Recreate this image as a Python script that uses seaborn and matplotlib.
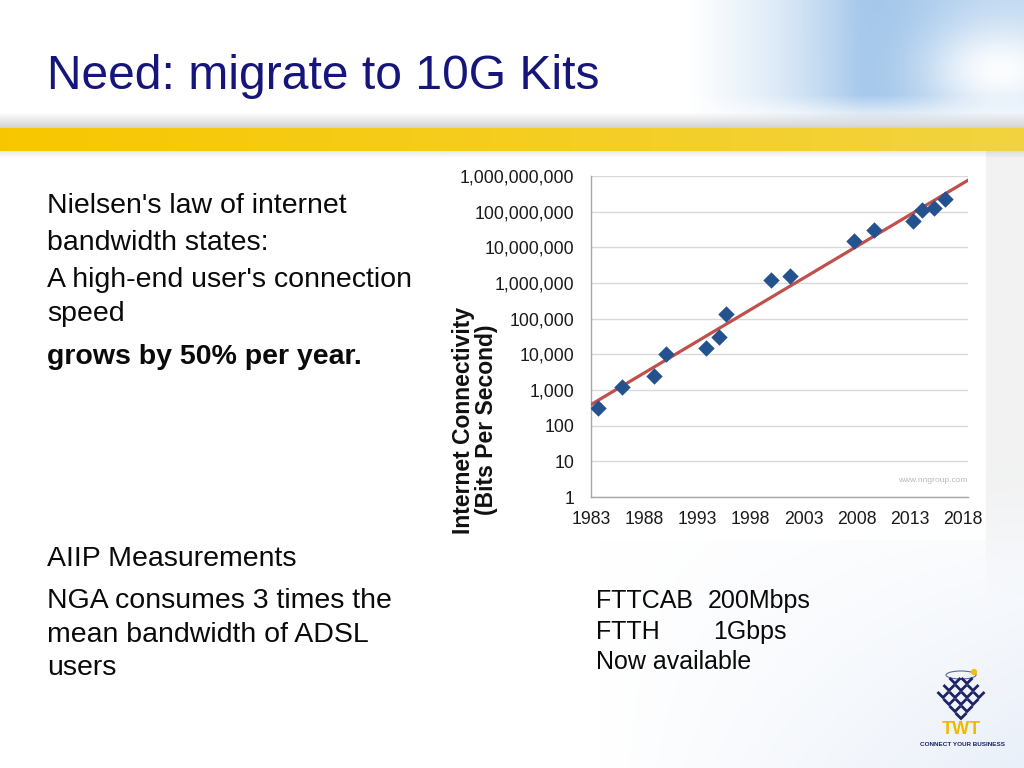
import numpy as np
import pandas as pd
import matplotlib
matplotlib.use("Agg")
import matplotlib.pyplot as plt
import matplotlib.ticker as mticker
from matplotlib.patches import Rectangle, Ellipse, Circle
import seaborn as sns

# ---------------- data ----------------
years = [1983.7, 1985.9, 1988.9, 1990.1, 1993.8, 1995.0, 1995.7, 1999.9,
         2001.7, 2007.7, 2009.6, 2013.3, 2014.1, 2015.3, 2016.3]
bps = [320, 1200, 2500, 10000, 15000, 30000, 135000, 1200000,
       1550000, 15500000, 30000000, 56000000, 115000000, 130000000, 230000000]
trend_years = [1983.0, 2018.5]
trend_bps = [390, 770000000]
y_ticks = [1, 10, 100, 1000, 10000, 100000, 1000000, 10000000, 100000000, 1000000000]
y_tick_labels = ["1", "10", "100", "1,000", "10,000", "100,000", "1,000,000",
                 "10,000,000", "100,000,000", "1,000,000,000"]
x_ticks = [1983, 1988, 1993, 1998, 2003, 2008, 2013, 2018]
x_tick_labels = ["1983", "1988", "1993", "1998", "2003", "2008", "2013", "2018"]

title_text = "Need: migrate to 10G Kits"
left_lines = ["Nielsen's law of internet", "bandwidth states:",
              "A high-end user's connection", "speed"]
bold_line = "grows by 50% per year."
lower_lines = ["AIIP Measurements", "NGA consumes 3 times the",
               "mean bandwidth of ADSL", "users"]
offer_names = ["FTTCAB", "FTTH"]
offer_speeds = ["200Mbps", "1Gbps"]
offer_note = "Now available"
y_label = "Internet Connectivity\n(Bits Per Second)"

# ---------------- style ----------------
sns.set_theme(style="white")
plt.rcParams["font.family"] = ["Liberation Sans", "DejaVu Sans"]

W, H = 1024, 768
fig = plt.figure(figsize=(W / 100, H / 100), dpi=100)

# ---------------- slide background ----------------
bg = fig.add_axes([0, 0, 1, 1])
bg.set_xlim(0, W)
bg.set_ylim(H, 0)
bg.axis("off")

img = np.ones((H, W, 3))
yy, xx = np.mgrid[0:H, 0:W].astype(float)
# sky in top right
sky = np.array([0.56, 0.73, 0.90])
a = np.clip((xx - 690) / 170, 0, 1)
cloud = np.exp(-(((xx - 1000) / 70) ** 2 + ((yy - 70) / 45) ** 2))
a = a * (1 - 0.95 * cloud) * np.clip((124 - yy) / 30, 0, 1)
a = a * (0.55 + 0.25 * np.exp(-((xx - 880) / 80) ** 2))
mask = yy < 124
for c in range(3):
    img[..., c] = np.where(mask, img[..., c] * (1 - a) + sky[c] * a, img[..., c])
# shadow above band
sh = np.clip((yy - 112) / 16, 0, 1)
shade = (yy >= 112) & (yy < 128)
for c in range(3):
    img[..., c] = np.where(shade, img[..., c] * (1 - 0.18 * sh), img[..., c])
# yellow band
band = (yy >= 128) & (yy < 151)
t = xx / W
ycol = np.stack([0.97 - 0.02 * t, 0.78 + 0.05 * t, 0.0 + 0.25 * t], axis=-1)
for c in range(3):
    img[..., c] = np.where(band, ycol[..., c], img[..., c])
# soft shadow below band
below = (yy >= 151) & (yy < 158)
for c in range(3):
    img[..., c] = np.where(below, img[..., c] * (1 - 0.08 * (158 - yy) / 7), img[..., c])
# right margin grey, fading downward
rmf = np.clip((600 - yy) / 120, 0, 1) * (xx > 985) * (yy >= 151)
for c in range(3):
    img[..., c] = img[..., c] * (1 - 0.05 * rmf)
# bluish gradient at bottom right
grad = np.clip((xx - 600) / 424, 0, 1) * np.clip((yy - 470) / 298, 0, 1)
tint = np.array([0.86, 0.90, 0.96])
low = yy >= 158
for c in range(3):
    img[..., c] = np.where(low, img[..., c] * (1 - 0.6 * grad) + tint[c] * 0.6 * grad, img[..., c])
bg.imshow(np.clip(img, 0, 1), extent=(0, W, H, 0), aspect="auto", zorder=0)

# chart picture panel (white)
bg.add_patch(Rectangle((446, 157), 539, 383, facecolor="white", edgecolor="none", zorder=1))

# ---------------- slide texts ----------------
navy = "#16167A"
txt_col = "#0A0A0A"
fs = 20.5
bg.text(47, 89, title_text, fontsize=34.6, color=navy, ha="left", va="baseline", zorder=3)
base_y = [213, 250, 287, 321]
for txt, yb in zip(left_lines, base_y):
    bg.text(47, yb, txt, fontsize=fs, color=txt_col, ha="left", va="baseline", zorder=3)
bg.text(47, 364, bold_line, fontsize=fs, color=txt_col, fontweight="bold",
        ha="left", va="baseline", zorder=3)
for txt, yb in zip(lower_lines, [566, 608, 642, 675]):
    bg.text(47, yb, txt, fontsize=fs, color=txt_col, ha="left", va="baseline", zorder=3)
for name, spd, yb, xs in zip(offer_names, offer_speeds, [608, 639], [708, 713]):
    bg.text(596, yb, name, fontsize=18, color=txt_col, ha="left", va="baseline", zorder=3)
    bg.text(xs, yb, spd, fontsize=18, color=txt_col, ha="left", va="baseline", zorder=3)
bg.text(596, 669, offer_note, fontsize=18, color=txt_col, ha="left", va="baseline", zorder=3)

# y label for the chart
bg.text(475, 420, y_label, fontsize=16.5, fontweight="bold", color="#111111",
        rotation=90, ha="center", va="center", multialignment="center",
        linespacing=1.05, zorder=3)
# watermark
bg.text(968, 481, "www.nngroup.com", fontsize=6, color="#B8B8B8", ha="right",
        va="center", zorder=3)

# ---------------- TWT logo ----------------
logo_navy = "#1C2466"
bg.add_patch(Ellipse((961, 675), 30, 8, fill=False, edgecolor="#5A6A9A", lw=0.8, zorder=3))
bg.add_patch(Circle((974, 672), 2.4, color="#F2C200", zorder=4))
rows = [2, 3, 4, 3, 2, 1]
for r, n in enumerate(rows):
    yv = 678 + r * 7.0
    for k in range(n):
        xc = 961 + (k - (n - 1) / 2) * 12
        bg.plot([xc - 5.5, xc, xc + 5.5], [yv, yv + 5.5, yv], color=logo_navy, lw=2.0,
                solid_joinstyle="miter", solid_capstyle="butt", zorder=3)
bg.text(961, 729, "TWT", fontsize=13, fontweight="bold", color="#F2B800",
        ha="center", va="center", zorder=3)
bg.text(963, 745, "CONNECT YOUR BUSINESS", fontsize=4.6, fontweight="bold",
        color=logo_navy, ha="center", va="center", zorder=3)

# ---------------- chart ----------------
x0, x1 = 591, 968
y0, y1 = 497, 176
ax = fig.add_axes([x0 / W, (H - y0) / H, (x1 - x0) / W, (y0 - y1) / H])
ax.set_facecolor("none")
df = pd.DataFrame({"year": years, "bps": bps})
tr = pd.DataFrame({"year": trend_years, "bps": trend_bps})

ax.set_yscale("log")
sns.lineplot(data=tr, x="year", y="bps", ax=ax, color="#C0504D", lw=2.3, zorder=3)
sns.scatterplot(data=df, x="year", y="bps", ax=ax, marker="D", s=70,
                color="#24528F", edgecolor="#24528F", linewidth=0, zorder=4)

ax.set_xlim(1983, 2018.47)
ax.set_ylim(1, 1e9)
ax.yaxis.set_major_locator(mticker.FixedLocator(y_ticks))
ax.set_yticklabels(y_tick_labels)
ax.yaxis.set_minor_locator(mticker.LogLocator(base=10, subs=np.arange(2, 10), numticks=20))
ax.yaxis.set_minor_formatter(mticker.NullFormatter())
ax.set_xticks(x_ticks)
ax.set_xticklabels(x_tick_labels)
ax.xaxis.set_minor_locator(mticker.MultipleLocator(1))

ax.grid(True, axis="y", which="major", color="#D9D9D9", lw=1)
ax.grid(False, axis="x")
for s in ["top", "right"]:
    ax.spines[s].set_visible(False)
for s in ["left", "bottom"]:
    ax.spines[s].set_color("#A6A6A6")
    ax.spines[s].set_linewidth(1)
ax.tick_params(axis="both", which="major", direction="inout", length=8, width=1,
               color="#A6A6A6", labelsize=12.7, labelcolor="#1A1A1A")
ax.tick_params(axis="y", which="major", pad=8)
ax.tick_params(axis="x", which="major", pad=6)
ax.tick_params(axis="y", which="minor", direction="inout", length=5, width=0.7, color="#BBBBBB")
ax.tick_params(axis="x", which="minor", direction="out", length=4, width=0.7, color="#A6A6A6")
ax.set_xlabel("")
ax.set_ylabel("")
if ax.get_legend() is not None:
    ax.get_legend().remove()

fig.savefig("out.png", dpi=100)
